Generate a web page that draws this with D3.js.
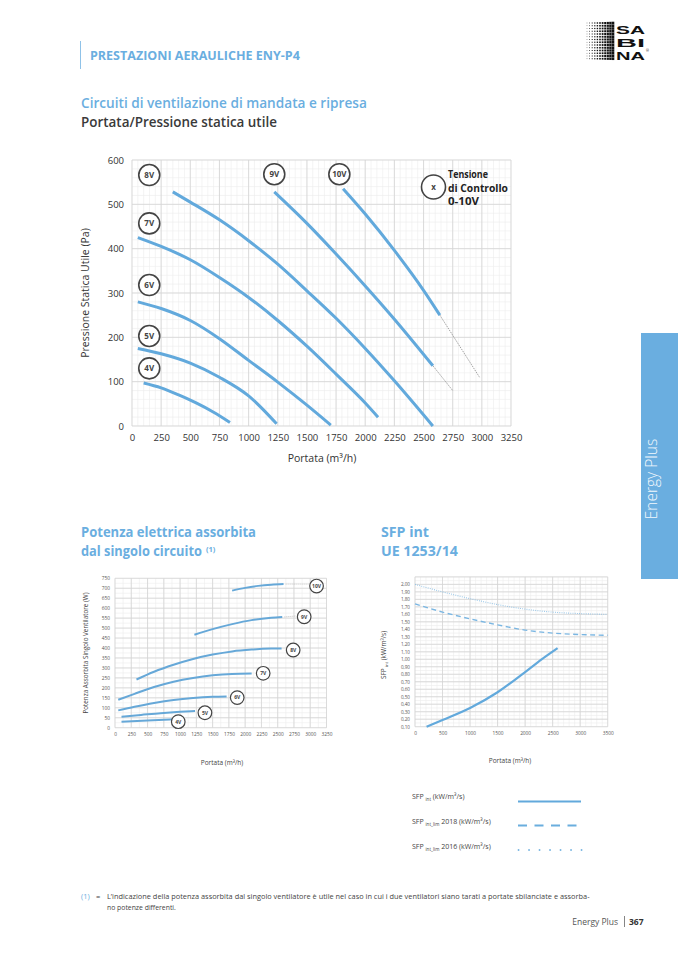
<!DOCTYPE html>
<html><head><meta charset="utf-8">
<script src="https://cdn.jsdelivr.net/npm/d3@7"></script>
<style>
body{margin:0;background:#fff;}
svg{display:block;font-family:"Open Sans","Noto Sans",sans-serif;}
</style></head><body>
<svg id="c" width="678" height="959"></svg>
<script>
// ---------- DATA ----------
// Main chart: Portata (m3/h) vs Pressione statica utile (Pa)
const mainFlowTicks = d3.range(0, 3251, 250);
const mainPressTicks = d3.range(0, 601, 100);
const press4V  = [[100,97],[250,86],[400,70],[550,52],[700,31],[840,8]];
const press5V  = [[50,175],[250,163],[500,142],[750,110],[1000,68],[1240,5]];
const press6V  = [[50,280],[250,265],[500,238],[750,197],[1000,148],[1250,99],[1500,47],[1705,2]];
const press7V  = [[50,425],[250,405],[500,375],[750,335],[1000,290],[1250,238],[1500,180],[1750,117],[2000,52],[2110,20]];
const press8V  = [[350,528],[500,505],[750,465],[1000,418],[1250,365],[1500,305],[1750,243],[2000,175],[2250,102],[2580,0]];
const press9V  = [[1220,528],[1500,457],[1750,388],[2000,316],[2250,241],[2580,136]];
const press10V = [[1810,535],[2000,478],[2250,396],[2500,306],[2640,250]];
const press9Vext  = [[2580,136],[2750,80]];
const press10Vext = [[2640,250],[2980,110]];
const mainLabels = ["4V","5V","6V","7V","8V","9V","10V"];
const mainLabelAt = [[148,130],[148,203],[148,318],[148,457],[148,566],[1220,568],[1778,568]];

// Potenza assorbita (W) vs Portata
const powFlowTicks = d3.range(0, 3251, 250);
const powTicks = d3.range(0, 751, 50);
const pow4V  = [[100,30],[500,36],[930,43]];
const pow5V  = [[100,55],[400,64],[700,73],[1000,80],[1230,84]];
const pow6V  = [[50,87],[300,105],[600,124],[900,139],[1200,149],[1500,155],[1715,157]];
const pow7V  = [[50,140],[300,170],[600,204],[900,231],[1200,250],[1500,263],[1800,270],[2100,272]];
const pow8V  = [[330,242],[600,281],[900,316],[1200,345],[1500,367],[1800,383],[2100,392],[2400,397],[2560,398]];
const pow9V  = [[1220,467],[1500,495],[1800,520],[2100,540],[2400,552],[2570,556]];
const pow10V = [[1800,688],[2000,702],[2200,712],[2400,718],[2590,721]];
const powLabels = ["4V","5V","6V","7V","8V","9V","10V"];
const powLabelAt = [[972,30],[1382,75],[1878,151],[2277,273],[2738,390],[2907,557],[3097,711]];

// SFP int (kW/m3/s) vs Portata
const sfpFlowTicks = d3.range(0, 3501, 500);
const sfpTicks = d3.range(1, 21).map(d => d / 10);
const sfpInt     = [[210,0.10],[500,0.19],[1000,0.35],[1500,0.56],[2000,0.83],[2300,1.00],[2590,1.15]];
const sfpLim2018 = [[0,1.74],[500,1.63],[1000,1.54],[1500,1.46],[2000,1.39],[2500,1.35],[3000,1.33],[3500,1.32]];
const sfpLim2016 = [[0,2.00],[500,1.90],[1000,1.81],[1500,1.73],[2000,1.67],[2500,1.63],[3000,1.61],[3500,1.60]];

// ---------- STYLE ----------
const BLUE = "#62a9dc";
const TITLE = "#6aaee0";
const DARK = "#3a3a3a";
const intFmt = d3.format("d");
const svg = d3.select("#c");

// text squeezed horizontally to a target width (via transform, so its box is real)
function fitText(parent, x, y, width, txt, attrs) {
  const t = parent.append("text").attr("x", 0).attr("y", 0).text(txt);
  Object.entries(attrs).forEach(([k, v]) => t.attr(k, v));
  const w = t.node().getComputedTextLength();
  const s = w > 0 ? width / w : 1;
  t.attr("transform", `translate(${x},${y}) scale(${s},1)`);
  return t;
}

function grid(g, x, y, xMin, yMin, xMaj, yMaj) {
  const [x0, x1] = x.range(), [y0, y1] = y.range();
  g.append("g").selectAll("line").data(xMin).join("line")
    .attr("x1", d => x(d)).attr("x2", d => x(d)).attr("y1", y0).attr("y2", y1)
    .attr("stroke", "#ececec").attr("stroke-width", 0.6);
  g.append("g").selectAll("line").data(yMin).join("line")
    .attr("y1", d => y(d)).attr("y2", d => y(d)).attr("x1", x0).attr("x2", x1)
    .attr("stroke", "#ececec").attr("stroke-width", 0.6);
  g.append("g").selectAll("line").data(xMaj).join("line")
    .attr("x1", d => x(d)).attr("x2", d => x(d)).attr("y1", y0).attr("y2", y1)
    .attr("stroke", "#d4d4d4").attr("stroke-width", 0.8);
  g.append("g").selectAll("line").data(yMaj).join("line")
    .attr("y1", d => y(d)).attr("y2", d => y(d)).attr("x1", x0).attr("x2", x1)
    .attr("stroke", "#d4d4d4").attr("stroke-width", 0.8);
}

function circleLabel(g, cx, cy, r, txt, fs) {
  g.append("circle").attr("cx", cx).attr("cy", cy).attr("r", r)
    .attr("fill", "#fff").attr("stroke", "#444").attr("stroke-width", r > 8 ? 1.6 : 1.2);
  g.append("text").attr("x", cx).attr("y", cy).attr("dy", "0.36em")
    .attr("text-anchor", "middle").attr("font-size", fs).attr("font-weight", 700)
    .attr("fill", "#444").text(txt);
}

// ---------- HEADER ----------
svg.append("line").attr("x1", 80.5).attr("x2", 80.5).attr("y1", 41).attr("y2", 69)
  .attr("stroke", "#8fc2e8").attr("stroke-width", 1);
fitText(svg, 90, 60, 210, "PRESTAZIONI AERAULICHE ENY-P4",
  {"font-size": 12.5, "font-weight": 700, fill: TITLE});

// logo
const logo = svg.append("g");
for (let i = 0; i < 11; i++) {
  for (let j = 0; j < 14; j++) {
    const s = 0.6 + i * 0.2;
    logo.append("rect").attr("x", 587 + i * 2.6 - s / 2).attr("y", 23 + j * 2.75 - s / 2)
      .attr("width", s).attr("height", s).attr("fill", "#111");
  }
}
[["SA", 34], ["BI", 47], ["NA", 60]].forEach(([t, yy]) => {
  fitText(logo, 616, yy, 29, t, {"font-size": 11.6, "font-weight": 700, fill: "#111",
    "font-family": "Liberation Sans, Arial, sans-serif"});
});
logo.append("text").attr("x", 646).attr("y", 52).attr("font-size", 3.5).attr("fill", "#111").text("®");

// titles
fitText(svg, 81, 108, 286, "Circuiti di ventilazione di mandata e ripresa",
  {"font-size": 14.5, "font-weight": 600, fill: TITLE});
fitText(svg, 81, 127, 196, "Portata/Pressione statica utile",
  {"font-size": 14.5, "font-weight": 600, fill: DARK});

// right tab
svg.append("rect").attr("x", 641).attr("y", 333).attr("width", 37).attr("height", 246).attr("fill", "#6aaee0");
svg.append("text").attr("transform", "translate(657,479) rotate(-90)").attr("text-anchor", "middle")
  .attr("font-size", 15.5).attr("font-weight", 300).attr("fill", "#f2f8fd").text("Energy Plus");

// ---------- MAIN CHART ----------
{
  const x = d3.scaleLinear().domain([0, 3250]).range([132, 511]);
  const y = d3.scaleLinear().domain([0, 600]).range([426, 160]);
  const g = svg.append("g");
  grid(g, x, y, d3.range(0, 3251, 50), d3.range(0, 601, 20), mainFlowTicks, mainPressTicks);

  const ax = g.append("g").attr("transform", "translate(0,426)")
    .call(d3.axisBottom(x).tickValues(mainFlowTicks).tickFormat(intFmt).tickSize(0).tickPadding(8));
  ax.select(".domain").remove();
  ax.selectAll("text").attr("font-size", 9.5).attr("fill", "#333").attr("font-family", "Open Sans");
  const ay = g.append("g").attr("transform", "translate(132,0)")
    .call(d3.axisLeft(y).tickValues(mainPressTicks).tickFormat(intFmt).tickSize(0).tickPadding(8));
  ay.select(".domain").remove();
  ay.selectAll("text").attr("font-size", 9.5).attr("fill", "#333").attr("font-family", "Open Sans");

  const line = d3.line().x(d => x(d[0])).y(d => y(d[1]));
  const lineC = d3.line().x(d => x(d[0])).y(d => y(d[1])).curve(d3.curveMonotoneX);
  [press9Vext, press10Vext].forEach(s => {
    g.append("path").attr("d", line(s)).attr("fill", "none").attr("stroke", "#8a8a8a")
      .attr("stroke-width", 0.8).attr("stroke-dasharray", "1.5,1");
  });
  [press4V, press5V, press6V, press7V, press8V, press9V, press10V].forEach(s => {
    g.append("path").attr("d", lineC(s)).attr("fill", "none").attr("stroke", BLUE)
      .attr("stroke-width", 3).attr("stroke-linecap", "butt");
  });
  mainLabels.forEach((t, i) => circleLabel(g, x(mainLabelAt[i][0]), y(mainLabelAt[i][1]), 10.5, t, 8));
  // legend
  circleLabel(g, 433.5, 187, 12, "x", 8);
  [["Tensione", 40], ["di Controllo", 60], ["0-10V", 31]].forEach(([t, w], i) => {
    fitText(g, 448, 178 + i * 13.5, w, t, {"font-size": 10.5, "font-weight": 700, fill: "#222"});
  });
  g.append("text").attr("transform", "translate(89,293) rotate(-90)").attr("text-anchor", "middle")
    .attr("font-size", 10.5).attr("fill", "#333").text("Pressione Statica Utile (Pa)");
  g.append("text").attr("x", 322).attr("y", 462).attr("text-anchor", "middle")
    .attr("font-size", 10.5).attr("fill", "#333").text("Portata (m³/h)");
}

// ---------- SECTION TITLES ----------
fitText(svg, 81, 537, 175, "Potenza elettrica assorbita",
  {"font-size": 13.5, "font-weight": 700, fill: TITLE});
fitText(svg, 81, 556, 121, "dal singolo circuito",
  {"font-size": 13.5, "font-weight": 700, fill: TITLE});
svg.append("text").attr("x", 206).attr("y", 552).attr("font-size", 7.5).attr("font-weight", 700)
  .attr("fill", TITLE).text("(1)");
fitText(svg, 381, 537, 48, "SFP int", {"font-size": 13.5, "font-weight": 700, fill: TITLE});
fitText(svg, 381, 556, 77, "UE 1253/14", {"font-size": 13.5, "font-weight": 700, fill: TITLE});

// ---------- POWER CHART ----------
{
  const x = d3.scaleLinear().domain([0, 3250]).range([115, 326.5]);
  const y = d3.scaleLinear().domain([0, 750]).range([727.7, 578.3]);
  const g = svg.append("g");
  grid(g, x, y, d3.range(0, 3251, 125), d3.range(0, 751, 25), powFlowTicks, powTicks);
  const ax = g.append("g").attr("transform", "translate(0,727.7)")
    .call(d3.axisBottom(x).tickValues(powFlowTicks).tickFormat(intFmt).tickSize(0).tickPadding(5));
  ax.select(".domain").remove();
  ax.selectAll("text").attr("font-size", 4.8).attr("fill", "#555").attr("font-family", "Open Sans");
  const ay = g.append("g").attr("transform", "translate(115,0)")
    .call(d3.axisLeft(y).tickValues(powTicks).tickFormat(intFmt).tickSize(0).tickPadding(5));
  ay.select(".domain").remove();
  ay.selectAll("text").attr("font-size", 4.8).attr("fill", "#555").attr("font-family", "Open Sans");

  const line = d3.line().x(d => x(d[0])).y(d => y(d[1])).curve(d3.curveMonotoneX);
  [pow4V, pow5V, pow6V, pow7V, pow8V, pow9V, pow10V].forEach(s => {
    g.append("path").attr("d", line(s)).attr("fill", "none").attr("stroke", "#66a8d8")
      .attr("stroke-width", 2);
  });
  // connectors to 9V / 10V labels
  [[pow9V, 5], [pow10V, 6]].forEach(([s, k]) => {
    const e = s[s.length - 1];
    g.append("line").attr("x1", x(e[0]) + 2).attr("y1", y(e[1]))
      .attr("x2", x(powLabelAt[k][0]) - 8).attr("y2", y(e[1]) + (k === 5 ? -1 : 0))
      .attr("stroke", "#999").attr("stroke-width", 0.5).attr("stroke-dasharray", "1.2,0.8");
  });
  powLabels.forEach((t, i) => circleLabel(g, x(powLabelAt[i][0]), y(powLabelAt[i][1]), 6.8, t, 5));
  g.append("text").attr("transform", "translate(88,653) rotate(-90)").attr("text-anchor", "middle")
    .attr("font-size", 6.3).attr("fill", "#444").text("Potenza Assorbita Singolo Ventilatore (W)");
  g.append("text").attr("x", 222).attr("y", 765).attr("text-anchor", "middle")
    .attr("font-size", 6.5).attr("fill", "#444").text("Portata (m³/h)");
}

// ---------- SFP CHART ----------
{
  const loc = d3.formatLocale({decimal: ",", thousands: ".", grouping: [3], currency: ["", "€"]});
  const fmt = loc.format(".2f");
  const x = d3.scaleLinear().domain([0, 3500]).range([415, 607.7]);
  const y = d3.scaleLinear().domain([0.1, 2.1]).range([726.7, 576.9]);
  const g = svg.append("g");
  grid(g, x, y, d3.range(0, 3501, 100), d3.range(0.1, 2.101, 0.05), sfpFlowTicks, d3.range(0.1, 2.101, 0.1));
  const ax = g.append("g").attr("transform", "translate(0,726.7)")
    .call(d3.axisBottom(x).tickValues(sfpFlowTicks).tickFormat(intFmt).tickSize(0).tickPadding(5));
  ax.select(".domain").remove();
  ax.selectAll("text").attr("font-size", 4.8).attr("fill", "#555").attr("font-family", "Open Sans");
  const ay = g.append("g").attr("transform", "translate(415,0)")
    .call(d3.axisLeft(y).tickValues(sfpTicks).tickFormat(fmt).tickSize(0).tickPadding(5));
  ay.select(".domain").remove();
  ay.selectAll("text").attr("font-size", 4.6).attr("fill", "#555").attr("font-family", "Open Sans");

  const line = d3.line().x(d => x(d[0])).y(d => y(d[1])).curve(d3.curveMonotoneX);
  g.append("path").attr("d", line(sfpLim2016)).attr("fill", "none").attr("stroke", "#8cc0e6")
    .attr("stroke-width", 1.1).attr("stroke-dasharray", "0.8,1.4");
  g.append("path").attr("d", line(sfpLim2018)).attr("fill", "none").attr("stroke", "#7ab6e2")
    .attr("stroke-width", 1.4).attr("stroke-dasharray", "5,3.5");
  g.append("path").attr("d", line(sfpInt)).attr("fill", "none").attr("stroke", BLUE)
    .attr("stroke-width", 2.2);

  const yl = g.append("text").attr("transform", "translate(386,655) rotate(-90)").attr("text-anchor", "middle")
    .attr("font-size", 6.5).attr("fill", "#444");
  yl.append("tspan").text("SFP");
  yl.append("tspan").attr("font-size", 4.2).attr("dy", 1.8).text(" int");
  yl.append("tspan").attr("dy", -1.8).text(" (kW/m³/s)");
  g.append("text").attr("x", 510).attr("y", 763).attr("text-anchor", "middle")
    .attr("font-size", 6.5).attr("fill", "#444").text("Portata (m³/h)");
}

// ---------- SFP LEGEND ----------
{
  const g = svg.append("g");
  const rows = [["int", ""], ["int_lim", " 2018"], ["int_lim", " 2016"]];
  const ys = [799, 824, 849];
  rows.forEach((r, i) => {
    const t = g.append("text").attr("x", 412).attr("y", ys[i]).attr("font-size", 7).attr("fill", "#444");
    t.append("tspan").text("SFP ");
    t.append("tspan").attr("font-size", 4.5).attr("dy", 1.8).text(r[0]);
    t.append("tspan").attr("dy", -1.8).text(r[1] + " (kW/m³/s)");
  });
  g.append("line").attr("x1", 518).attr("x2", 581).attr("y1", 801.5).attr("y2", 801.5)
    .attr("stroke", BLUE).attr("stroke-width", 2);
  g.append("line").attr("x1", 518).attr("x2", 582).attr("y1", 825.5).attr("y2", 825.5)
    .attr("stroke", "#6aaede").attr("stroke-width", 2.2).attr("stroke-dasharray", "9,7.5");
  g.append("line").attr("x1", 518.5).attr("x2", 582).attr("y1", 850).attr("y2", 850)
    .attr("stroke", "#7ab6e2").attr("stroke-width", 1.8).attr("stroke-linecap", "round")
    .attr("stroke-dasharray", "0.1,10.4");
}

// ---------- FOOTNOTE / FOOTER ----------
svg.append("text").attr("x", 81).attr("y", 899).attr("font-size", 7.5).attr("fill", TITLE).text("(1)");
svg.append("text").attr("x", 96).attr("y", 899).attr("font-size", 7.5).attr("fill", "#444").text("=");
fitText(svg, 107, 899, 483,
  "L’indicazione della potenza assorbita dal singolo ventilatore è utile nel caso in cui i due ventilatori siano tarati a portate sbilanciate e assorba-",
  {"font-size": 7.5, fill: "#444"});
fitText(svg, 107, 910, 69, "no potenze differenti.", {"font-size": 7.5, fill: "#444"});
svg.append("text").attr("x", 618).attr("y", 925).attr("text-anchor", "end").attr("font-size", 8.5)
  .attr("fill", "#555").text("Energy Plus");
svg.append("line").attr("x1", 624.5).attr("x2", 624.5).attr("y1", 916).attr("y2", 927)
  .attr("stroke", "#666").attr("stroke-width", 0.8);
svg.append("text").attr("x", 629).attr("y", 925).attr("font-size", 8.5).attr("font-weight", 700)
  .attr("fill", "#333").text("367");
</script>
</body></html>
